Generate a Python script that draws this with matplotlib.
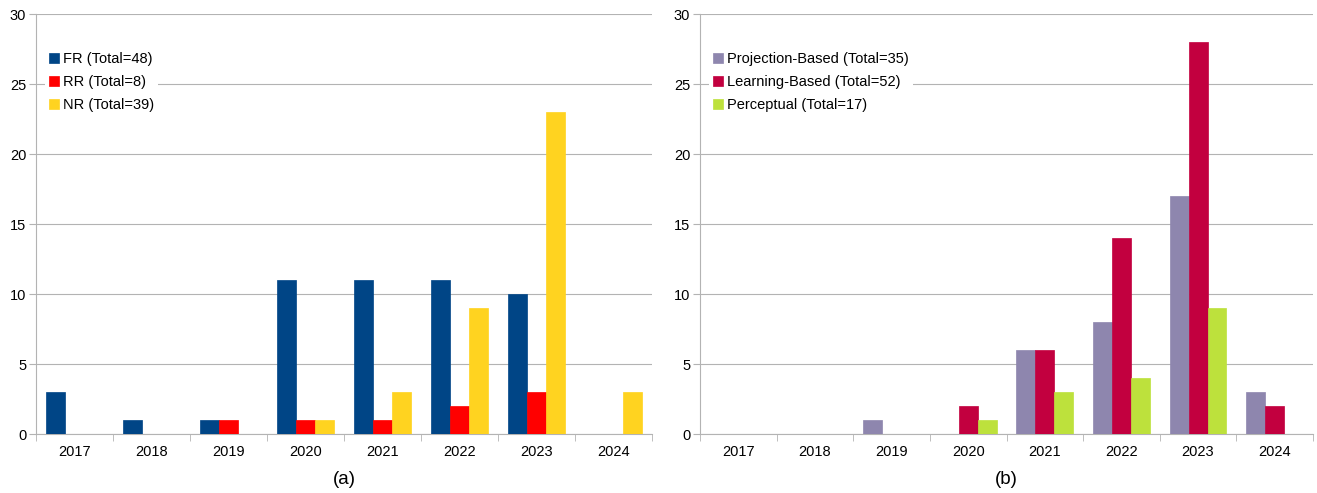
import numpy as np
import matplotlib
matplotlib.use('Agg')
import matplotlib.pyplot as plt

plt.rcParams['font.family'] = ['Liberation Sans', 'DejaVu Sans']

years = ['2017', '2018', '2019', '2020', '2021', '2022', '2023', '2024']

# panel (a)
fr = [3, 1, 1, 11, 11, 11, 10, 0]
rr = [0, 0, 1, 1, 1, 2, 3, 0]
nr = [0, 0, 0, 1, 3, 9, 23, 3]
labels_a = ['FR (Total=48)', 'RR (Total=8)', 'NR (Total=39)']
colors_a = ['#004586', '#ff0000', '#ffd320']

# panel (b)
proj = [0, 0, 1, 0, 6, 8, 17, 3]
learn = [0, 0, 0, 2, 6, 14, 28, 2]
perc = [0, 0, 0, 1, 3, 4, 9, 0]
labels_b = ['Projection-Based (Total=35)', 'Learning-Based (Total=52)', 'Perceptual (Total=17)']
colors_b = ['#8e86ae', '#c2003f', '#bde13c']

grid_col = '#b3b3b3'

fig = plt.figure(figsize=(13.17, 4.93), dpi=100)
ax_a = fig.add_axes([36 / 1317, 59 / 493, 616 / 1317, 420 / 493])
ax_b = fig.add_axes([700 / 1317, 59 / 493, 613 / 1317, 420 / 493])


def draw_panel(ax, series, labels, colors, tag):
    x = np.arange(len(years))
    w = 0.247
    for i, (vals, lab, col) in enumerate(zip(series, labels, colors)):
        ax.bar(x + (i - 1) * w, vals, w, color=col, label=lab,
               edgecolor=col, linewidth=0.5, zorder=3)
    ax.set_xlim(-0.5, len(years) - 0.5)
    ax.set_ylim(0, 30)
    ax.set_yticks(range(0, 31, 5))
    ax.set_xticks(x)
    ax.set_xticklabels(years)
    ax.set_xticks(np.arange(-0.5, len(years)), minor=True)
    ax.tick_params(axis='x', which='major', length=0, pad=8, labelsize=10.5)
    ax.tick_params(axis='x', which='minor', length=5, color=grid_col)
    ax.tick_params(axis='y', length=5, color=grid_col, pad=2, labelsize=10.5)
    ax.grid(axis='y', color=grid_col, linewidth=0.8, zorder=0)
    for s in ['top', 'right']:
        ax.spines[s].set_visible(False)
    for s in ['left', 'bottom']:
        ax.spines[s].set_color(grid_col)
    leg = ax.legend(loc='upper left', bbox_to_anchor=(0.002, 0.937), fontsize=10.5,
                    frameon=True, edgecolor='none', framealpha=1,
                    handlelength=0.7, handleheight=0.7, handletextpad=0.25,
                    labelspacing=0.62, borderpad=0.3)
    leg.get_frame().set_linewidth(0)
    ax.text(0.5, -46 / 420, tag, transform=ax.transAxes, ha='center',
            va='center', fontsize=13.5)


draw_panel(ax_a, [fr, rr, nr], labels_a, colors_a, '(a)')
draw_panel(ax_b, [proj, learn, perc], labels_b, colors_b, '(b)')

fig.savefig('out.png', dpi=100)
